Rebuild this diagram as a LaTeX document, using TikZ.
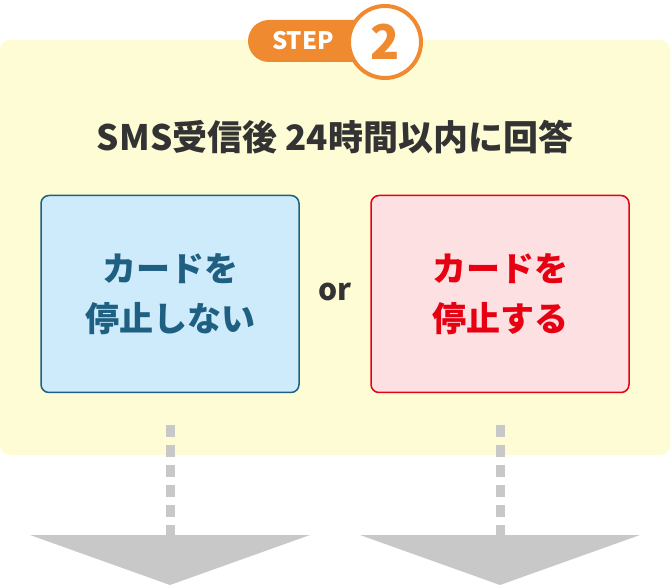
\documentclass[tikz,border=0pt]{standalone}
\usepackage{fontspec}
\setmainfont{Noto Sans CJK JP}
\usetikzlibrary{positioning}
\definecolor{bgyellow}{HTML}{FDFCD4}
\definecolor{steporange}{HTML}{F08A30}
\definecolor{darktext}{HTML}{333333}
\definecolor{bluefill}{HTML}{CDEBFB}
\definecolor{blueline}{HTML}{1F5F82}
\definecolor{redfill}{HTML}{FDE0E1}
\definecolor{redline}{HTML}{E60012}
\definecolor{arrowgray}{HTML}{C8C8C8}

\begin{document}
\begin{tikzpicture}[x=1pt, y=-1pt, font=\bfseries]
    \tikzstyle{choice_style} = [rounded corners=8pt, line width=1.5pt, minimum width=258pt, minimum height=197pt, align=center, font=\bfseries\fontsize{34}{50}\selectfont]
    \tikzstyle{dash_style} = [draw=arrowgray, line width=9pt, dash pattern=on 12pt off 8pt]
    \useasboundingbox (0,0) rectangle (670,585);
    \fill[bgyellow, rounded corners=10pt] (0,40) rectangle (670,455);

    % step badge
    \fill[steporange, rounded corners=21pt] (248,20) rectangle (380,62);
    \node[text=white, font=\bfseries\fontsize{24}{24}\selectfont] (steplabel) at (303,41) {STEP};
    \node[circle, draw=steporange, fill=white, line width=4pt, minimum size=72pt, inner sep=0pt, text=steporange, font=\bfseries\fontsize{48}{48}\selectfont] (stepnum) at (385,42) {2};

    \node[text=darktext, font=\bfseries\fontsize{35}{35}\selectfont] (title) at (335,137) {SMS受信後 24時間以内に回答};

    \node[choice_style, draw=blueline, fill=bluefill, text=blueline] (keep) at (170,294) {カードを\\停止しない};
    \node[choice_style, draw=redline, fill=redfill, text=redline] (stop) at (500,294) {カードを\\停止する};
    \node[text=darktext, font=\bfseries\fontsize{30}{30}\selectfont] (or) at (335,292) {or};

    \coordinate (keeptop) at (170,425);
    \coordinate (keepbot) at (170,535);
    \coordinate (stoptop) at (500,425);
    \coordinate (stopbot) at (500,535);
    \draw[dash_style] (keeptop) -- (keepbot);
    \draw[dash_style] (stoptop) -- (stopbot);

    \fill[arrowgray] (30,535) -- (310,535) -- (170,585) -- cycle;
    \fill[arrowgray] (360,535) -- (640,535) -- (500,585) -- cycle;
\end{tikzpicture}
\end{document}
